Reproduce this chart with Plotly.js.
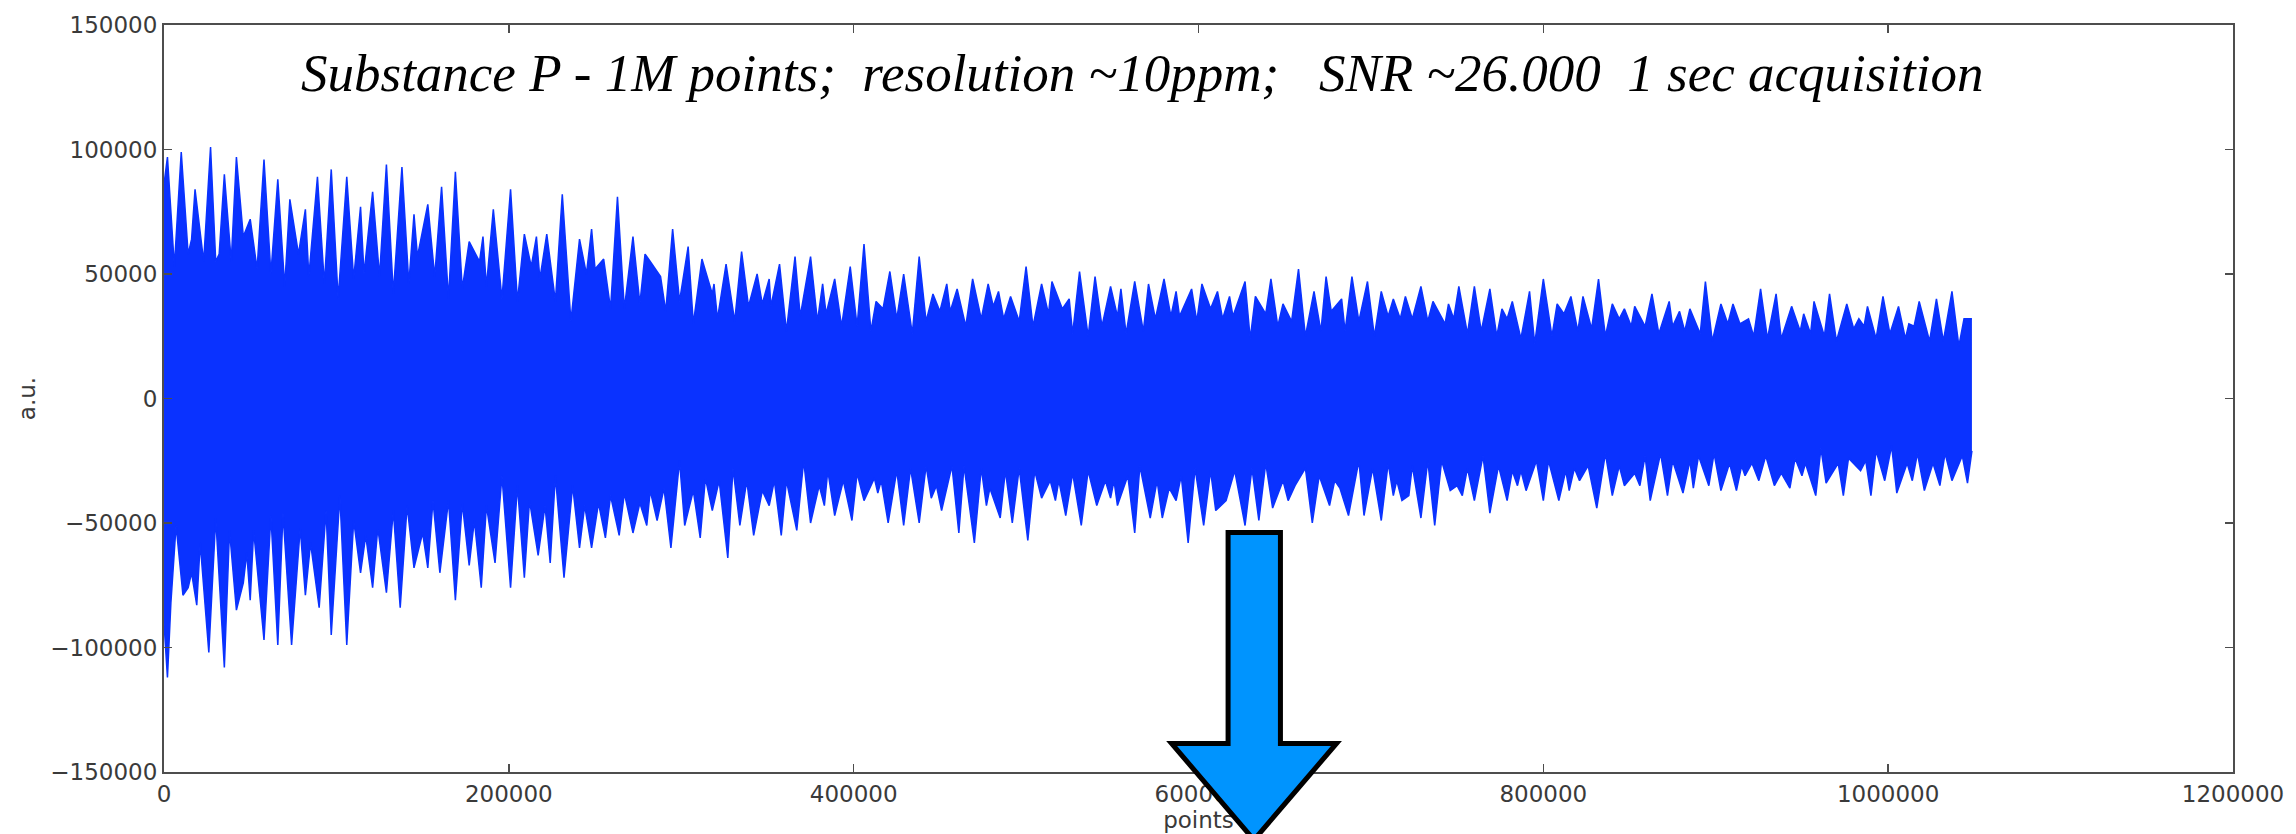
<!DOCTYPE html>
<html>
<head>
<meta charset="utf-8">
<script src="https://cdn.plot.ly/plotly-3.0.1.min.js"></script>
<style>
  html, body { margin: 0; padding: 0; background: #ffffff; }
  #fid { width: 2296px; height: 834px; }
</style>
</head>
<body>
<div id="fid"></div>
<script>
// Transient (FID) of Substance P: upper and lower envelope of the recorded signal
// (sample index vs. intensity in a.u.). The band between them is filled solid.

const upperX = [
  0, 2000, 6000, 10000, 14000, 16000, 18000, 23000, 27000, 30000, 32000, 35000, 39000, 42000,
  46000, 50000, 54000, 58000, 62000, 66000, 70000, 73000, 78000, 82000, 84000, 89000, 93000,
  97000, 101000, 106000, 110000, 114000, 116000, 121000, 125000, 129000, 133000, 138000, 142000,
  145000, 147000, 153000, 157000, 161000, 165000, 169000, 173000, 177000, 183000, 185000, 187000,
  191000, 196000, 201000, 205000, 209000, 213000, 216000, 218000, 222000, 227000, 231000, 236000,
  241000, 245000, 248000, 250000, 255000, 259000, 263000, 267000, 272000, 276000, 279000, 282000,
  288000, 291000, 295000, 299000, 304000, 307000, 312000, 318000, 319000, 321000, 326000, 331000,
  335000, 339000, 344000, 347000, 351000,
  352000, 357000, 361000, 366000, 369000, 375000, 379000, 382000, 384000, 389000, 393000, 398000,
  402000, 406000, 410000, 413000, 417000, 421000, 425000, 429000, 434000, 438000, 442000, 446000,
  450000, 454000, 456000, 460000, 465000, 469000, 474000, 478000, 481000, 484000, 487000, 491000,
  496000, 500000, 504000, 509000, 513000, 515000, 521000, 525000, 527000, 531000, 536000, 540000,
  544000, 549000, 553000, 555000, 558000, 563000, 568000, 571000, 575000, 580000, 584000, 587000,
  589000, 596000, 599000, 602000, 607000, 611000, 614000, 618000, 620000, 627000, 630000, 633000,
  639000, 642000, 646000, 649000, 654000, 658000, 662000, 667000, 671000, 674000, 677000, 683000,
  685000, 689000, 693000,
  698000, 702000, 706000, 710000, 713000, 717000, 720000, 724000, 729000, 733000, 736000, 743000,
  745000, 748000, 751000, 756000, 760000, 764000, 769000, 773000, 776000, 779000, 782000, 787000,
  792000, 795000, 800000, 805000, 808000, 812000, 816000, 820000, 823000, 828000, 832000, 836000,
  840000, 844000, 847000, 851000, 853000, 859000, 863000, 867000, 873000, 875000, 879000, 882000,
  885000, 891000, 894000, 898000, 903000, 907000, 910000, 914000, 919000, 922000, 926000, 930000,
  935000, 938000, 944000, 949000, 951000, 955000, 957000, 963000, 966000, 970000, 976000, 980000,
  983000, 986000, 988000, 993000, 997000, 1001000, 1006000, 1010000, 1012000, 1015000, 1018000,
  1024000, 1028000, 1032000, 1037000, 1041000, 1044000, 1048576
];
const upperY = [
  86000, 97000, 53000, 99000, 58000, 64000, 84000, 55000, 101000, 55000, 58000, 90000, 55000, 97000,
  65000, 72000, 52000, 96000, 50000, 88000, 45000, 80000, 58000, 76000, 49000, 89000, 46000,
  92000, 40000, 89000, 48000, 77000, 50000, 83000, 49000, 94000, 42000, 93000, 46000,
  74000, 57000, 78000, 49000, 85000, 40000, 91000, 44000, 63000, 55000, 65000, 45000,
  76000, 40000, 84000, 39000, 66000, 53000, 65000, 48000, 66000, 39000, 82000, 31000,
  64000, 50000, 68000, 52000, 56000, 36000, 81000, 36000, 65000, 38000, 58000, 55000,
  49000, 35000, 68000, 39000, 61000, 30000, 56000, 42000, 46000, 32000, 54000, 31000,
  59000, 37000, 50000, 38000, 48000,
  37000, 54000, 27000, 57000, 33000, 57000, 31000, 46000, 34000, 48000, 29000, 53000,
  29000, 62000, 27000, 39000, 36000, 51000, 32000, 50000, 26000, 57000, 31000, 42000,
  35000, 46000, 35000, 44000, 29000, 48000, 32000, 46000, 37000, 43000, 32000, 41000,
  31000, 53000, 29000, 46000, 34000, 47000, 36000, 40000, 26000, 51000, 25000, 49000,
  29000, 45000, 33000, 44000, 26000, 47000, 27000, 46000, 32000, 48000, 33000, 43000,
  33000, 44000, 31000, 46000, 36000, 43000, 32000, 41000, 33000, 47000, 24000, 41000,
  34000, 48000, 29000, 38000, 31000, 52000, 25000, 43000, 27000, 49000, 35000, 40000,
  27000, 49000, 31000,
  47000, 25000, 43000, 33000, 40000, 32000, 41000, 32000, 45000, 31000, 39000, 30000,
  38000, 32000, 45000, 26000, 45000, 27000, 44000, 25000, 36000, 32000, 39000, 24000,
  43000, 22000, 48000, 25000, 38000, 34000, 41000, 27000, 41000, 28000, 48000, 25000,
  38000, 32000, 36000, 29000, 37000, 29000, 42000, 26000, 39000, 29000, 35000, 27000,
  36000, 26000, 47000, 23000, 38000, 30000, 38000, 30000, 32000, 25000, 44000, 24000,
  42000, 24000, 37000, 27000, 34000, 26000, 39000, 25000, 42000, 23000, 38000, 28000,
  32000, 29000, 37000, 24000, 41000, 26000, 37000, 24000, 30000, 29000, 39000,
  23000, 40000, 23000, 43000, 21000, 32000, 32000
];

const lowerX = [
  0, 2000, 4000, 7000, 11000, 14000, 16000, 19000, 21000, 26000, 30000, 35000, 38000, 42000,
  46000, 48000, 50000, 52000, 58000, 62000, 66000, 69000, 74000, 79000, 82000, 85000, 90000,
  94000, 97000, 102000, 106000, 110000, 114000, 117000, 121000, 124000, 129000, 133000, 137000,
  141000, 145000, 150000, 153000, 156000, 160000, 165000, 169000, 173000, 177000, 180000, 184000,
  187000, 192000, 196000, 201000, 205000, 209000, 212000, 217000, 221000, 224000, 227000, 232000,
  237000, 241000, 244000, 248000, 252000, 256000, 259000, 264000, 267000, 272000, 276000, 280000,
  282000, 286000, 290000, 294000, 299000, 302000, 307000, 311000, 314000, 318000, 322000, 327000,
  330000, 334000, 338000, 342000, 347000,
  351000, 354000, 358000, 361000, 367000, 371000, 375000, 380000, 383000, 385000, 389000, 394000,
  399000, 402000, 406000, 412000, 414000, 416000, 420000, 425000, 429000, 433000, 438000, 442000,
  445000, 448000, 451000, 457000, 461000, 464000, 470000, 474000, 477000, 479000, 485000, 488000,
  492000, 496000, 501000, 505000, 509000, 514000, 517000, 519000, 523000, 527000, 532000, 536000,
  541000, 546000, 549000, 551000, 553000, 559000, 563000, 566000, 572000, 576000, 579000, 583000,
  587000, 590000, 594000, 598000, 603000, 607000, 610000, 616000, 621000, 627000, 631000, 635000,
  639000, 643000, 649000, 652000, 656000, 662000, 666000, 670000, 676000, 679000, 682000, 687000,
  693000,
  696000, 701000, 706000, 710000, 713000, 715000, 718000, 722000, 724000, 729000, 733000, 737000,
  741000, 746000, 750000, 753000, 756000, 760000, 765000, 769000, 774000, 779000, 782000, 785000,
  787000, 790000, 796000, 800000, 803000, 809000, 813000, 815000, 818000, 821000, 826000, 831000,
  836000, 840000, 844000, 847000, 853000, 856000, 859000, 862000, 868000, 872000, 875000, 881000,
  885000, 887000, 890000, 896000, 899000, 903000, 908000, 912000, 915000, 917000, 921000, 925000,
  929000, 934000, 938000, 943000, 946000, 950000, 952000, 958000, 961000, 964000, 971000, 974000,
  977000, 984000, 987000, 990000, 993000, 998000, 1002000, 1005000, 1011000, 1014000, 1017000,
  1021000, 1026000, 1030000, 1033000, 1037000, 1043000, 1046000, 1048576
];
const lowerY = [
  -90000, -112000, -82000, -51000, -79000, -76000, -70000, -83000, -58000, -102000, -48000, -108000, -53000, -85000,
  -74000, -62000, -81000, -53000, -97000, -47000, -99000, -46000, -99000, -52000, -79000, -58000, -84000,
  -45000, -95000, -39000, -99000, -49000, -70000, -55000, -76000, -52000, -78000, -45000, -84000,
  -43000, -68000, -54000, -68000, -41000, -70000, -41000, -81000, -42000, -67000, -49000, -76000,
  -43000, -66000, -31000, -76000, -35000, -72000, -41000, -63000, -43000, -66000, -31000, -72000,
  -35000, -60000, -43000, -60000, -42000, -56000, -39000, -55000, -38000, -54000, -42000, -51000,
  -37000, -49000, -36000, -60000, -25000, -51000, -37000, -56000, -32000, -45000, -33000, -64000,
  -28000, -51000, -33000, -55000, -37000,
  -43000, -33000, -55000, -33000, -53000, -25000, -50000, -35000, -43000, -29000, -47000, -33000,
  -49000, -30000, -41000, -32000, -38000, -33000, -50000, -29000, -51000, -28000, -50000, -27000,
  -40000, -35000, -45000, -27000, -54000, -27000, -58000, -28000, -43000, -36000, -48000, -29000,
  -50000, -28000, -57000, -29000, -40000, -33000, -41000, -33000, -47000, -30000, -51000, -29000,
  -43000, -33000, -40000, -33000, -43000, -31000, -54000, -27000, -48000, -33000, -48000, -36000,
  -41000, -31000, -58000, -28000, -51000, -29000, -45000, -41000, -29000, -51000, -28000, -49000,
  -26000, -44000, -33000, -41000, -35000, -28000, -50000, -31000, -43000, -33000, -36000, -47000,
  -25000,
  -47000, -28000, -49000, -26000, -39000, -33000, -41000, -39000, -27000, -48000, -25000, -51000,
  -25000, -37000, -35000, -39000, -28000, -41000, -23000, -46000, -27000, -41000, -29000, -35000,
  -29000, -37000, -25000, -41000, -25000, -41000, -29000, -37000, -28000, -33000, -27000, -44000,
  -22000, -39000, -27000, -35000, -30000, -35000, -23000, -41000, -22000, -39000, -25000, -38000,
  -25000, -36000, -23000, -35000, -22000, -37000, -26000, -37000, -27000, -31000, -26000, -33000,
  -23000, -35000, -30000, -36000, -24000, -31000, -26000, -39000, -20000, -34000, -26000, -39000,
  -24000, -29000, -25000, -39000, -21000, -33000, -19000, -38000, -26000, -33000, -22000,
  -37000, -26000, -35000, -22000, -33000, -23000, -34000, -21000
];

// Axis ticks
const xTickVals = [0, 200000, 400000, 600000, 800000, 1000000, 1200000];
const xTickText = ['0', '200000', '400000', '600000', '800000', '1000000', '1200000'];
const yTickVals = [-150000, -100000, -50000, 0, 50000, 100000, 150000];
const yTickText = ['\u2212150000', '\u2212100000', '\u221250000', '0', '50000', '100000', '150000'];

const headline = 'Substance P - 1M points;\u00a0 resolution ~10ppm;\u00a0\u00a0 SNR ~26.000\u00a0 1 sec acquisition';

const signalColor = '#0a32ff';
const tickFont = { family: 'DejaVu Sans, Verdana, sans-serif', size: 23, color: '#3a3a3a' };
const frameColor = '#4d4d4d';

const traces = [
  {
    x: lowerX, y: lowerY, type: 'scatter', mode: 'lines',
    line: { color: signalColor, width: 1.5 },
    hoverinfo: 'skip', showlegend: false
  },
  {
    x: upperX, y: upperY, type: 'scatter', mode: 'lines',
    line: { color: signalColor, width: 1.5 },
    fill: 'tonexty', fillcolor: signalColor,
    hoverinfo: 'skip', showlegend: false
  }
];

const axisCommon = {
  showgrid: false, zeroline: false,
  showline: true, linecolor: frameColor, linewidth: 2, mirror: 'allticks',
  ticks: 'inside', ticklen: 8, tickwidth: 1.5, tickcolor: frameColor,
  tickfont: tickFont, tickmode: 'array'
};

const layout = {
  width: 2296, height: 834,
  margin: { l: 164, r: 63, t: 25, b: 62, pad: 0 },
  paper_bgcolor: '#ffffff', plot_bgcolor: '#ffffff',
  showlegend: false,
  xaxis: Object.assign({}, axisCommon, {
    range: [0, 1200000], tickvals: xTickVals, ticktext: xTickText,
    title: { text: 'points', font: tickFont, standoff: 6 }
  }),
  yaxis: Object.assign({}, axisCommon, {
    range: [-150000, 150000], tickvals: yTickVals, ticktext: yTickText,
    title: { text: 'a.u.', font: tickFont, standoff: 8 }
  }),
  annotations: [{
    xref: 'paper', yref: 'paper', x: 0.4727, y: 0.936,
    xanchor: 'center', yanchor: 'middle', showarrow: false,
    text: headline,
    font: { family: 'Liberation Serif, Times New Roman, serif', size: 53, color: '#000000', style: 'italic' }
  }],
  shapes: [{
    // large down-pointing arrow below the signal
    type: 'path', xref: 'paper', yref: 'paper', layer: 'above',
    path: 'M 0.5143 0.3206 L 0.5396 0.3206 L 0.5396 0.0382 L 0.5667 0.0382 ' +
          'L 0.5268 -0.0910 L 0.4870 0.0382 L 0.5143 0.0382 Z',
    fillcolor: '#0094fe',
    line: { color: '#000000', width: 5 }
  }]
};

Plotly.newPlot('fid', traces, layout, { staticPlot: true, displayModeBar: false }).then(function (gd) {
  // keep the arrow on top of the axis title text
  const info = gd.querySelector('.infolayer');
  if (info) {
    const top = info.parentNode;
    const above = top.querySelector(':scope > .layer-above');
    if (above) top.appendChild(above);
  }
});
</script>
</body>
</html>
